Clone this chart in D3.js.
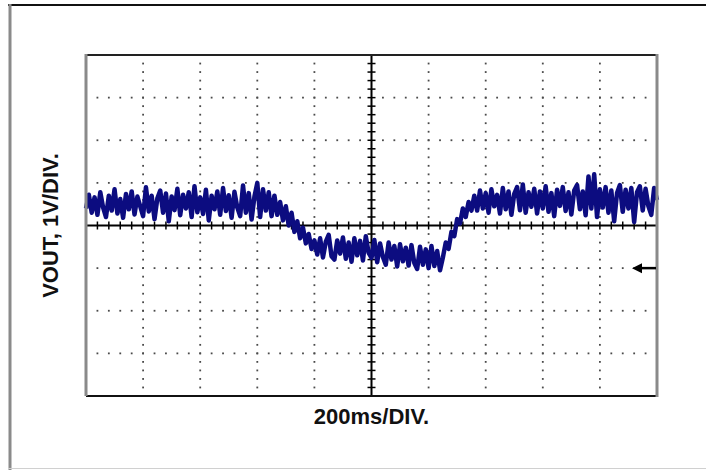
<!DOCTYPE html>
<html>
<head>
<meta charset="utf-8">
<script src="https://cdn.jsdelivr.net/npm/d3@7"></script>
<style>
    body { margin: 0; background: #fff; }
    svg { display: block; }
    .label { font-family: "Liberation Sans", Arial, sans-serif; font-weight: bold; fill: #111; }
</style>
</head>
<body>
<div id="scope"></div>
<script>
// Time axis: 200ms per division, 10 divisions. Voltage: 1V per division, 8 divisions.
const timeStart = -1000;
const timeStep = 10;
const xDivisions = [-1000, -800, -600, -400, -200, 0, 200, 400, 600, 800, 1000];
const yDivisions = [-4, -3, -2, -1, 0, 1, 2, 3, 4];
const groundLevel = -1;
const xLabel = "200ms/DIV.";
const yLabel = "VOUT, 1V/DIV.";

// VOUT samples (V), one every 10ms
const vout = [
    0.40, 0.72, 0.30, 0.66, 0.25, 0.78, 0.42, 0.20, 0.70, 0.35,
    0.85, 0.28, 0.62, 0.18, 0.74, 0.38, 0.80, 0.26, 0.68, 0.45,
    0.22, 0.90, 0.33, 0.70, 0.15, 0.64, 0.82, 0.30, 0.75, 0.10,
    0.68, 0.36, 0.86, 0.24, 0.72, 0.40, 0.78, 0.20, 0.92, 0.31,
    0.66, 0.27, 0.84, 0.12, 0.70, 0.38, 0.80, 0.25, 0.88, 0.34,
    0.71, 0.18, 0.79, 0.42, 0.22, 0.94, 0.30, 0.76, 0.14, 0.68,
    1.00, 0.20, 0.85, 0.35, 0.78, 0.22,
    0.70, 0.25, 0.55, 0.12, 0.45, 0.00, 0.30, -0.15, 0.10, -0.30,
    -0.05, -0.42, -0.20, -0.55, -0.35,
    -0.68, -0.30, -0.75, -0.38, -0.22, -0.72, -0.80, -0.35, -0.66, -0.28,
    -0.78, -0.40, -0.85, -0.30, -0.70, -0.36, -0.82, -0.25, -0.64, -0.76,
    -0.34, -0.86, -0.42, -0.74, -0.92, -0.40, -0.80, -0.48, -0.96, -0.44,
    -0.84, -0.52, -0.94, -0.46, -0.88, -1.02, -0.50, -0.92, -0.56, -1.00,
    -0.48, -0.95, -0.60, -1.05,
    -0.75, -0.40, -0.55, -0.15, -0.25, 0.15, 0.05, 0.40, 0.20, 0.55, 0.35,
    0.70, 0.35, 0.82, 0.40, 0.76, 0.30, 0.85, 0.45, 0.72, 0.28,
    0.88, 0.38, 0.80, 0.25, 0.74, 0.90, 0.36, 0.96, 0.30, 0.78,
    0.44, 0.86, 0.28, 0.80, 0.40, 0.92, 0.32, 0.76, 0.22, 0.84,
    0.46, 0.90, 0.34, 0.78, 0.26, 0.82, 0.95, 0.38, 0.80, 0.24,
    1.15, 0.40, 1.20, 0.20, 0.85, 0.42, 0.90, 0.30, 0.82, 0.10,
    0.76, 0.95, 0.32, 0.84, 0.40, 0.88, 0.08, 0.78, 0.92, 0.35,
    0.86, 0.45, 0.25, 0.88, 0.60
];

const width = 706;
const height = 470;
const plot = { left: 86, right: 657, top: 55, bottom: 396 };
const traceColor = "#0c0c80";

const svg = d3.select("#scope")
    .append("svg")
    .attr("width", width)
    .attr("height", height);

// outer frame
svg.append("line")
    .attr("x1", 8).attr("x2", width).attr("y1", 5).attr("y2", 5)
    .attr("stroke", "#111").attr("stroke-width", 2);
svg.append("line")
    .attr("x1", 10).attr("x2", 10).attr("y1", 4).attr("y2", height)
    .attr("stroke", "#8a8a8a").attr("stroke-width", 3);
svg.append("line")
    .attr("x1", 8).attr("x2", width).attr("y1", 468.5).attr("y2", 468.5)
    .attr("stroke", "#d0d0d0").attr("stroke-width", 1);

const xScale = d3.scaleLinear()
    .domain(d3.extent(xDivisions))
    .range([plot.left, plot.right]);

const yScale = d3.scaleLinear()
    .domain(d3.extent(yDivisions))
    .range([plot.bottom, plot.top]);

// minor positions: 5 per division
const xMinor = d3.range(xDivisions[0], xDivisions[xDivisions.length - 1] + 1, 40);
const yMinor = d3.range(-4, 4.001, 0.2).map(v => Math.round(v * 10) / 10);

const grid = svg.append("g").attr("class", "grid").attr("fill", "#4a4a4a");

// dotted horizontal grid lines
yDivisions.filter(v => v !== 0 && Math.abs(v) !== 4).forEach(v => {
    grid.selectAll(null)
        .data(xMinor.filter(t => t > xDivisions[0] && t < 1000 && t !== 0))
        .join("rect")
        .attr("x", t => xScale(t) - 0.9)
        .attr("y", yScale(v) - 0.9)
        .attr("width", 1.8)
        .attr("height", 1.8);
});

// dotted vertical grid lines
xDivisions.filter(t => t !== 0 && Math.abs(t) !== 1000).forEach(t => {
    grid.selectAll(null)
        .data(yMinor.filter(v => v > -4 && v < 4 && v !== 0))
        .join("rect")
        .attr("x", xScale(t) - 0.9)
        .attr("y", v => yScale(v) - 0.9)
        .attr("width", 1.8)
        .attr("height", 1.8);
});

// centre axes with minor ticks
const axes = svg.append("g").attr("stroke", "#000");

axes.append("line")
    .attr("x1", plot.left).attr("x2", plot.right)
    .attr("y1", yScale(0)).attr("y2", yScale(0))
    .attr("stroke-width", 2);
axes.append("line")
    .attr("x1", xScale(0)).attr("x2", xScale(0))
    .attr("y1", plot.top).attr("y2", plot.bottom)
    .attr("stroke-width", 2);

axes.selectAll(".xtick")
    .data(xMinor.filter(t => t > -1000 && t < 1000))
    .join("line")
    .attr("class", "xtick")
    .attr("x1", t => xScale(t)).attr("x2", t => xScale(t))
    .attr("y1", yScale(0) - 4).attr("y2", yScale(0) + 4)
    .attr("stroke-width", 1.5);

axes.selectAll(".ytick")
    .data(yMinor.filter(v => v > -4 && v < 4))
    .join("line")
    .attr("class", "ytick")
    .attr("x1", xScale(0) - 4).attr("x2", xScale(0) + 4)
    .attr("y1", v => yScale(v)).attr("y2", v => yScale(v))
    .attr("stroke-width", 1.5);

// trace
const line = d3.line()
    .x((d, i) => xScale(timeStart + i * timeStep))
    .y(d => yScale(d));

svg.append("path")
    .datum(vout)
    .attr("d", line)
    .attr("fill", "none")
    .attr("stroke", traceColor)
    .attr("stroke-width", 4.5)
    .attr("stroke-linejoin", "round");

// plot frame
svg.append("line")
    .attr("x1", plot.left).attr("x2", plot.right + 1)
    .attr("y1", plot.top).attr("y2", plot.top)
    .attr("stroke", "#222").attr("stroke-width", 2);
svg.append("line")
    .attr("x1", plot.left).attr("x2", plot.right + 1)
    .attr("y1", plot.bottom).attr("y2", plot.bottom)
    .attr("stroke", "#111").attr("stroke-width", 2);
svg.append("line")
    .attr("x1", plot.left).attr("x2", plot.left)
    .attr("y1", plot.top - 1).attr("y2", plot.bottom)
    .attr("stroke", "#8a8a8a").attr("stroke-width", 3);
svg.append("line")
    .attr("x1", plot.right).attr("x2", plot.right)
    .attr("y1", plot.top - 1).attr("y2", plot.bottom + 1)
    .attr("stroke", "#8a8a8a").attr("stroke-width", 3);

// ground marker arrow
const gy = yScale(groundLevel);
svg.append("line")
    .attr("x1", plot.right - 16).attr("x2", plot.right - 1)
    .attr("y1", gy).attr("y2", gy)
    .attr("stroke", "#000").attr("stroke-width", 2.5);
svg.append("path")
    .attr("d", `M${plot.right - 25},${gy} L${plot.right - 15},${gy - 5} L${plot.right - 15},${gy + 5} Z`)
    .attr("fill", "#000");

// labels
svg.append("text")
    .attr("class", "label")
    .attr("x", xScale(0))
    .attr("y", 424)
    .attr("text-anchor", "middle")
    .style("font-size", "22px")
    .text(xLabel);

svg.append("text")
    .attr("class", "label")
    .attr("transform", `translate(58,${yScale(0)}) rotate(-90)`)
    .attr("text-anchor", "middle")
    .style("font-size", "22px")
    .text(yLabel);
</script>
</body>
</html>
